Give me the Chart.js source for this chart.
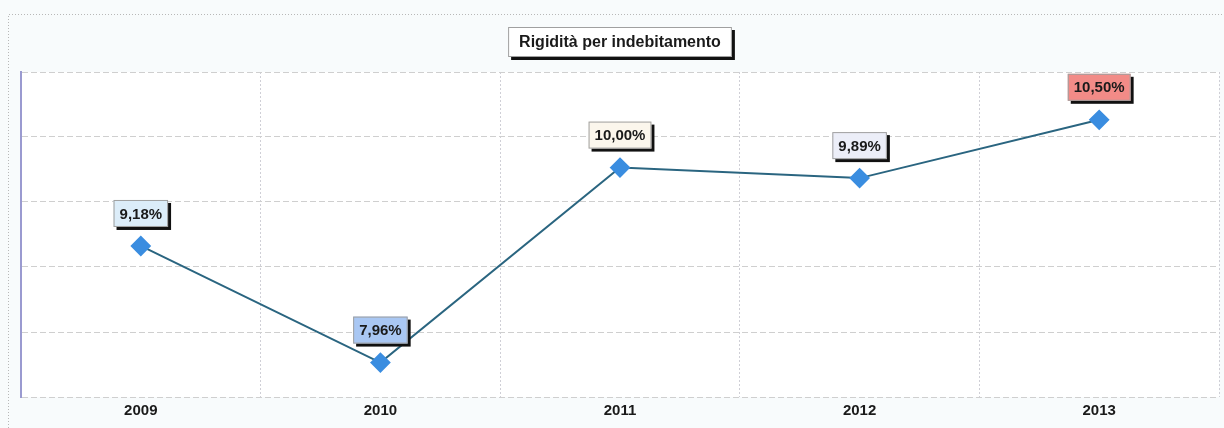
<!DOCTYPE html>
<html>
<head>
<meta charset="utf-8">
<title>Rigidità per indebitamento</title>
<script src="https://cdn.jsdelivr.net/npm/chart.js@4.4.1/dist/chart.umd.min.js"></script>
<style>
  html, body { margin: 0; padding: 0; background: #f8fbfc; }
  #wrap { width: 1224px; height: 428px; position: relative; }
</style>
</head>
<body>
<div id="wrap"><canvas id="chart" width="1224" height="428"></canvas></div>
<script>
// dati
const anni = ['2009', '2010', '2011', '2012', '2013'];
const valori = [9.18, 7.96, 10.00, 9.89, 10.50];
const etichette = ['9,18%', '7,96%', '10,00%', '9,89%', '10,50%'];
const coloriEtichette = ['#dcedf9', '#a9c7f3', '#fbf6ec', '#eceef8', '#f28b87'];
const yTicks = [7.6, 8.28, 8.96, 9.64, 10.32, 11];
const titolo = 'Rigidità per indebitamento';

const FONT = "'Liberation Sans', Arial, sans-serif";

// box con ombra nera (titolo ed etichette)
function boxOmbra(ctx, x, y, w, h, fill) {
    ctx.fillStyle = '#111';
    ctx.fillRect(x + 3, y + 3, w, h);
    ctx.fillStyle = fill;
    ctx.fillRect(x, y, w, h);
    ctx.strokeStyle = '#a0a0a0';
    ctx.lineWidth = 1;
    ctx.strokeRect(x + 0.5, y + 0.5, w - 1, h - 1);
}

const sfondoPlugin = {
    id: 'sfondo',
    beforeDraw(chart) {
        const ctx = chart.ctx;
        const a = chart.chartArea;
        ctx.save();
        ctx.fillStyle = '#f8fbfc';
        ctx.fillRect(0, 0, chart.width, chart.height);
        // cornice esterna tratteggiata
        ctx.strokeStyle = '#b8b8b8';
        ctx.setLineDash([1, 2]);
        ctx.lineWidth = 1;
        ctx.beginPath();
        ctx.moveTo(8.5, 428);
        ctx.lineTo(8.5, 14.5);
        ctx.lineTo(1224, 14.5);
        ctx.stroke();
        ctx.setLineDash([]);
        // area del grafico bianca
        ctx.fillStyle = '#ffffff';
        ctx.fillRect(a.left, a.top, a.right - a.left, a.bottom - a.top);
        ctx.restore();
    },
    afterDraw(chart) {
        const ctx = chart.ctx;
        ctx.save();
        // titolo in un riquadro
        ctx.font = 'bold 16px ' + FONT;
        const tw = ctx.measureText(titolo).width;
        const w = tw + 22, h = 30;
        const x = 620 - w / 2, y = 27;
        boxOmbra(ctx, x, y, w, h, '#ffffff');
        ctx.fillStyle = '#1a1a1a';
        ctx.textAlign = 'center';
        ctx.textBaseline = 'middle';
        ctx.fillText(titolo, 620, y + h / 2 + 1);
        ctx.restore();
    }
};

const etichettePlugin = {
    id: 'etichette',
    afterDatasetsDraw(chart) {
        const ctx = chart.ctx;
        const meta = chart.getDatasetMeta(0);
        ctx.save();
        ctx.font = 'bold 15px ' + FONT;
        ctx.textAlign = 'center';
        ctx.textBaseline = 'middle';
        meta.data.forEach((p, i) => {
            const testo = etichette[i];
            const w = ctx.measureText(testo).width + 12;
            const h = 27;
            const x = p.x - w / 2;
            const y = p.y - 19 - h;
            boxOmbra(ctx, x, y, w, h, coloriEtichette[i]);
            ctx.fillStyle = '#1a1a1a';
            ctx.fillText(testo, p.x, y + h / 2 + 1);
        });
        ctx.restore();
    }
};

new Chart(document.getElementById('chart'), {
    type: 'line',
    data: {
        labels: anni,
        datasets: [{
            data: valori,
            borderColor: '#2a6580',
            borderWidth: 2,
            pointStyle: 'rectRot',
            pointRadius: 9,
            pointBackgroundColor: '#3a8de0',
            pointBorderColor: '#3a8de0',
            tension: 0
        }]
    },
    options: {
        responsive: false,
        animation: false,
        layout: { autoPadding: false, padding: { left: 21, top: 72, right: 5, bottom: 0 } },
        plugins: {
            legend: { display: false },
            tooltip: { enabled: false },
            title: { display: false }
        },
        scales: {
            x: {
                offset: true,
                grid: { color: '#cfcfd6', offset: true, drawTicks: false },
                border: { display: false, dash: [2, 2] },
                ticks: {
                    color: '#1a1a1a',
                    font: { family: FONT, size: 15, weight: 'bold' },
                    padding: 5
                },
                afterFit(scale) {
                    scale.height = 31;
                    scale.paddingLeft = 0;
                    scale.paddingRight = 0;
                }
            },
            y: {
                min: 7.6,
                max: 11,
                afterBuildTicks(scale) { scale.ticks = yTicks.map(v => ({ value: v })); },
                grid: { color: '#cfcfcf', drawTicks: false },
                border: { display: true, color: '#9a9ad0', width: 2, dash: [6, 3] },
                ticks: { display: false },
                afterFit(scale) { scale.width = 0; }
            }
        }
    },
    plugins: [sfondoPlugin, etichettePlugin]
});
</script>
</body>
</html>
